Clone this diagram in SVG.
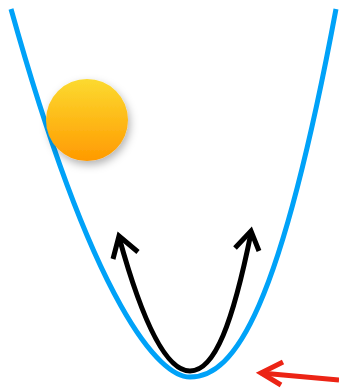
<svg xmlns="http://www.w3.org/2000/svg" width="339" height="389" viewBox="0 0 339 389">
  <defs>
    <linearGradient id="ballGrad" x1="0" y1="0" x2="0" y2="1">
      <stop offset="0" stop-color="#FCDA30"/>
      <stop offset="1" stop-color="#FF9A00"/>
    </linearGradient>
    <filter id="shadow" x="-40%" y="-40%" width="180%" height="180%">
      <feDropShadow dx="2" dy="4" stdDeviation="4" flood-color="#000" flood-opacity="0.3"/>
    </filter>
  </defs>
  <style>
    .valley { fill: none; stroke: #00A2F8; stroke-width: 5; stroke-linecap: butt; }
    .motion { fill: none; stroke: #000; stroke-width: 5; stroke-linecap: butt; stroke-linejoin: miter; }
    .push { fill: none; stroke: #EC2415; stroke-width: 5; stroke-linecap: butt; stroke-linejoin: miter; }
  </style>
  <g id="valley">
    <path class="valley" d="M11,9 C95,309 160,377 190,377 C235,377 280,309 336,9"/>
  </g>
  <g id="ball">
    <circle cx="87" cy="120" r="41" fill="url(#ballGrad)" filter="url(#shadow)"/>
  </g>
  <g id="connectors">
    <path class="motion" d="M119,237 C141,317 165,371 190,371 C215,371 233,322 251,233"/>
    <polyline class="motion" points="113,259 119,236 138,252"/>
    <polyline class="motion" points="235,248 251,231 259,251"/>
    <path class="push" d="M339,380 L261,373"/>
    <polyline class="push" points="283,362 261,373 281,385"/>
  </g>
</svg>
